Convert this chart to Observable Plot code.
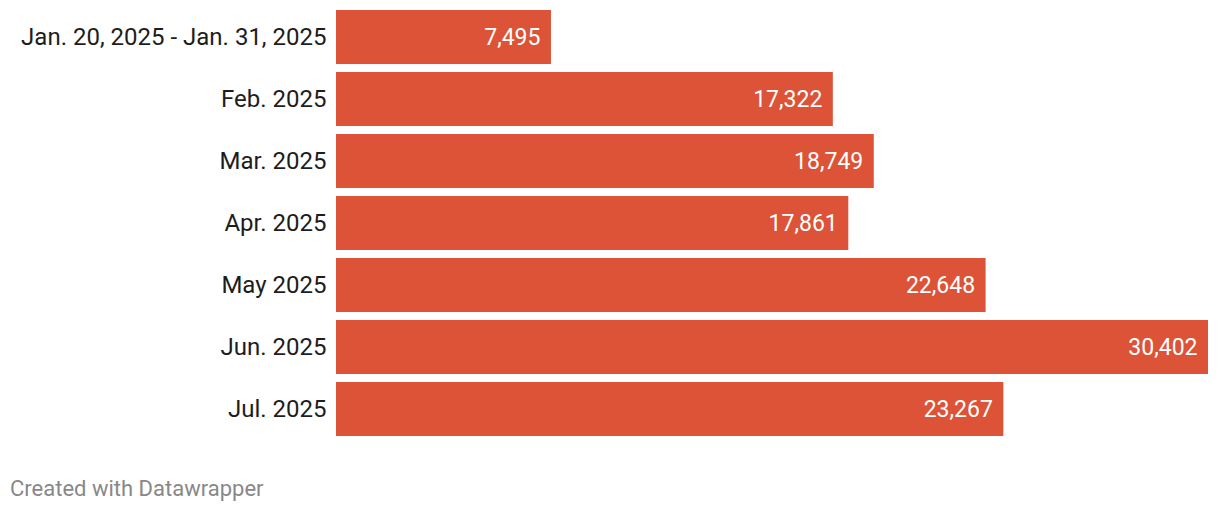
<!DOCTYPE html>
<html>
<head>
<meta charset="utf-8">
<script src="https://cdn.jsdelivr.net/npm/d3@7"></script>
<script src="https://cdn.jsdelivr.net/npm/@observablehq/plot@0.6"></script>
<style>
  html, body { margin: 0; padding: 0; background: #fff; }
  body { font-family: Roboto, "Noto Sans", sans-serif; width: 1220px; }
  #caption { font-family: Roboto, sans-serif; font-size: 22px; line-height: 25px; color: #888; margin: 30px 0 0 10px; }
</style>
</head>
<body>
<div id="chart"></div>
<div id="caption">Created with Datawrapper</div>
<script>
const periods = ["Jan. 20, 2025 - Jan. 31, 2025", "Feb. 2025", "Mar. 2025", "Apr. 2025", "May 2025", "Jun. 2025", "Jul. 2025"];
const counts = [7495, 17322, 18749, 17861, 22648, 30402, 23267];

const data = periods.map((p, i) => ({period: p, count: counts[i]}));
const fmt = d3.format(",");

const chart = Plot.plot({
  width: 1220,
  height: 446,
  marginLeft: 336,
  marginRight: 12,
  marginTop: 10,
  marginBottom: 10,
  style: {fontFamily: "Roboto, sans-serif", fontSize: "24px", color: "#1d1d1d", background: "#fff"},
  x: {domain: [0, d3.max(counts)], axis: null},
  y: {domain: periods, paddingInner: 0.134, paddingOuter: 0, label: null},
  marks: [
    Plot.barX(data, {x: "count", y: "period", fill: "#dc5337"}),
    Plot.text(data, {x: "count", y: "period", text: d => fmt(d.count), textAnchor: "end", dx: -11, fill: "#fff", fontSize: 23}),
    Plot.axisY({tickSize: 0, tickPadding: 10, fontSize: 24, label: null})
  ]
});
document.getElementById("chart").appendChild(chart);
</script>
</body>
</html>
